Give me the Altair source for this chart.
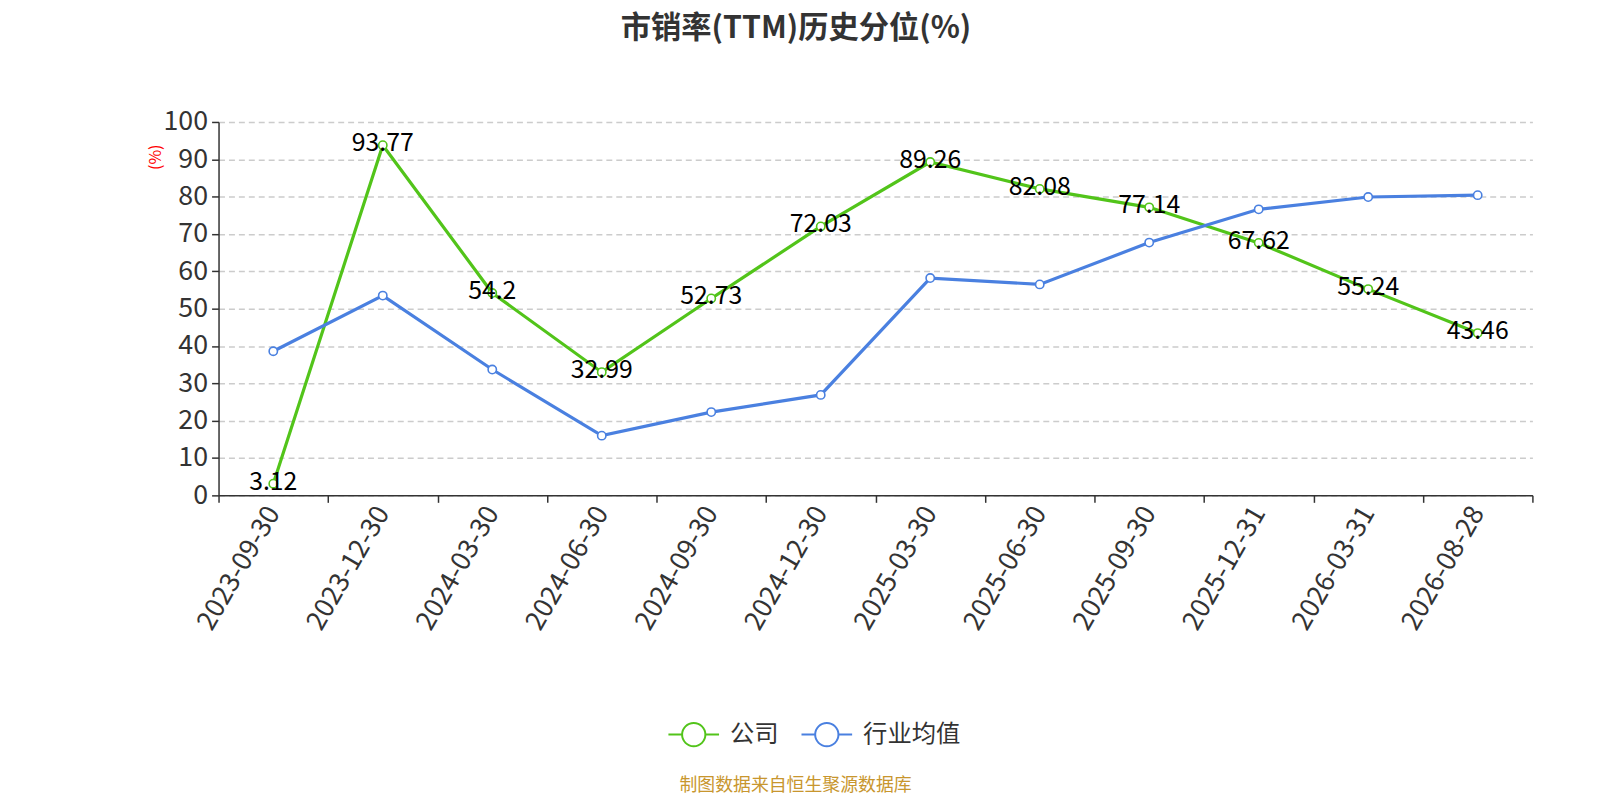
import altair as alt
import pandas as pd

dates = ["2023-09-30", "2023-12-30", "2024-03-30", "2024-06-30", "2024-09-30", "2024-12-30",
         "2025-03-30", "2025-06-30", "2025-09-30", "2025-12-31", "2026-03-31", "2026-08-28"]
company = [3.12, 93.77, 54.2, 32.99, 52.73, 72.03, 89.26, 82.08, 77.14, 67.62, 55.24, 43.46]
industry = [38.6, 53.5, 33.7, 16.0, 22.3, 26.9, 58.2, 56.5, 67.7, 76.6, 79.9, 80.4]
series_names = ["公司", "行业均值"]
colors = ["#52C41A", "#4A80E0"]
y_ticks = [0, 10, 20, 30, 40, 50, 60, 70, 80, 90, 100]

rows = []
for i, d in enumerate(dates):
    rows.append({"idx": i + 0.5, "date": d, "series": series_names[0], "value": company[i]})
    rows.append({"idx": i + 0.5, "date": d, "series": series_names[1], "value": industry[i]})
df = pd.DataFrame(rows)

FONT = "Noto Sans CJK SC"
n = len(dates)
tick_values = [k / 2 for k in range(0, 2 * n + 1)]
label_array = "[" + ",".join("'" + d + "'" for d in dates) + "]"

x = alt.X(
    "idx:Q",
    scale=alt.Scale(domain=[0, n], nice=False, zero=False),
    axis=alt.Axis(
        values=tick_values,
        labelExpr=f"datum.value % 1 != 0 ? {label_array}[floor(datum.value)] : ''",
        labelAngle=-60,
        labelAlign="right",
        labelBaseline="middle",
        labelFontSize=27,
        labelColor="#333333",
        labelFont=FONT,
        labelPadding=6,
        labelOverlap=False,
        labelFlush=False,
        tickOpacity={"condition": {"test": "datum.value % 1 != 0", "value": 0}, "value": 1},
        tickColor="#333333",
        tickSize=7,
        tickWidth=1.5,
        domainColor="#333333",
        domainWidth=1.5,
        grid=False,
        title=None,
    ),
)
y = alt.Y(
    "value:Q",
    scale=alt.Scale(domain=[0, 100], nice=False, zero=True),
    axis=alt.Axis(
        values=y_ticks,
        tickCount=11,
        labelOverlap=False,
        labelFontSize=27,
        labelColor="#333333",
        labelFont=FONT,
        labelPadding=4,
        tickColor="#333333",
        tickSize=7,
        tickWidth=1.5,
        domainColor="#333333",
        domainWidth=1.5,
        gridColor="#CCCCCC",
        gridDash=[6, 4],
        gridWidth=1.5,
        title="(%)",
        titleColor="#FF0000",
        titleFontSize=16,
        titleFont=FONT,
        titleFontWeight="normal",
        titleAngle=270,
        titleX=-63,
        titleY=35,
        titleAlign="center",
        titleBaseline="middle",
    ),
)
color = alt.Color(
    "series:N",
    scale=alt.Scale(domain=series_names, range=colors),
    sort=series_names,
    legend=alt.Legend(
        orient="none",
        direction="horizontal",
        legendX=452,
        legendY=590,
        title=None,
        symbolType="M-1,0L-0.46,0M0.46,0L1,0M0.46,0A0.46,0.46 0 1,1 -0.46,0A0.46,0.46 0 1,1 0.46,0Z",
        symbolSize=2600,
        symbolStrokeWidth=2,
        symbolFillColor="#FFFFFF",
        labelFontSize=24.5,
        labelFont=FONT,
        labelColor="#333333",
        labelOffset=10,
        columnPadding=19,
    ),
)

base = alt.Chart(df).encode(x=x, y=y)
lines = base.mark_line(strokeWidth=3.2).encode(color=color)
points = base.mark_point(filled=True, fill="#FFFFFF", size=70, strokeWidth=1.6, opacity=1).encode(
    stroke=alt.Stroke("series:N", scale=alt.Scale(domain=series_names, range=colors), legend=None),
)
labels = base.transform_filter(alt.datum.series == series_names[0]).mark_text(
    fontSize=25, font=FONT, color="#000000", dy=-2, align="center", baseline="middle"
).encode(text=alt.Text("value:Q"))

source = alt.Chart(pd.DataFrame({"t": ["制图数据来自恒生聚源数据库"]})).mark_text(
    fontSize=18, font=FONT, color="#C8962E", align="center", baseline="middle"
).encode(text="t:N", x=alt.value(581), y=alt.value(669))

chart = alt.layer(lines, points, labels, source).properties(
    width=1323,
    height=376,
    padding={"left": 212, "top": 112, "right": 60, "bottom": 306},
    autosize=alt.AutoSizeParams(type="none"),
    title=alt.TitleParams(
        "市销率(TTM)历史分位(%)",
        fontSize=30.5,
        font=FONT,
        fontWeight="bold",
        color="#333333",
        anchor="middle",
        dx=-80,
        offset=64,
    ),
).configure_view(stroke=None).resolve_scale(stroke="independent")

chart.save("out.html", embed_options={"renderer": "svg", "actions": False})
